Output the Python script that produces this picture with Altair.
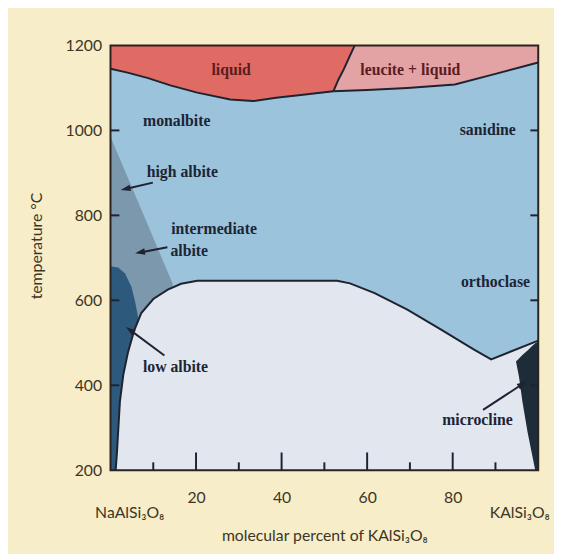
import math
import altair as alt
import pandas as pd

# ---------------- data ----------------
X_DOMAIN = [0, 100]          # molecular percent KAlSi3O8
T_DOMAIN = [200, 1200]       # temperature °C

# liquidus (liquid / solid)
liquidus_x = [0, 4, 8.8, 14, 20.3, 28, 33.3, 38.7, 45, 52.1]
liquidus_t = [1145, 1136, 1123, 1106, 1089, 1073, 1069, 1077, 1084, 1092]
# liquid / leucite+liquid boundary
boundary_x = [52.1, 53.3, 54.5, 55.8, 57.1]
boundary_t = [1092, 1120, 1143, 1172, 1200]
# bottom of leucite + liquid field
leucite_x = [52.1, 60, 69.4, 80.5, 90, 100]
leucite_t = [1092, 1095, 1100, 1108, 1133, 1160]
# solvus
solvus_x = [1.2, 1.5, 2.2, 3.0, 4.1, 5.5, 7.2, 10, 13.4, 16.5, 20.3,
            53, 56, 61.75, 69.4, 77.1, 84.8, 89, 100]
solvus_t = [200, 240, 362, 425, 478, 528, 570, 603, 625, 639, 646,
            646, 640, 617, 578, 532, 485, 461, 505]
# high / intermediate albite wedge
albite_x = [0, 14.5]
albite_t = [985, 640]
# low albite field (top edge)
lowalb_x = [0, 1.8, 3.4, 4.9, 5.8, 6.6]
lowalb_t = [680, 677, 663, 632, 594, 553]
# microcline field
micro_x = [94.8, 95.5, 96.3, 97.5, 98.5, 99.3, 100]
micro_lo = [456, 420, 362, 290, 240, 200, 200]
micro_hi = [456, 463, 471, 482, 492, 499, 503]

# axis ticks
y_tick_values = [400, 600, 800, 1000]
y_label_values = [200, 400, 600, 800, 1000, 1200]
x_major = [20, 40, 60, 80]
x_minor = [10, 30, 50, 70, 90]

# region labels
labels = ["liquid", "leucite + liquid", "monalbite", "high albite", "intermediate",
          "albite", "sanidine", "orthoclase", "low albite", "microcline"]
label_x = [28.2, 70.1, 15.5, 16.8, 24.2, 18.4, 88.2, 90.0, 15.2, 85.8]
label_t = [1143, 1143, 1021, 901, 768, 716, 1000, 644, 443, 317]
label_col = ["#5a1d1f", "#5a1d1f"] + ["#1c2535"] * 8

# arrows (start -> tip)
arrow_sx = [9.9, 13.3, 12.6, 87.1]
arrow_st = [877, 725, 470, 342]
arrow_tx = [2.6, 6.0, 3.8, 97.1]
arrow_tt = [860, 711, 536, 408]

end_labels = ["NaAlSi₃O₈", "KAlSi₃O₈"]
end_x = [4.5, 95.7]

# ---------------- styling ----------------
W, H = 434, 431
CREAM = "#f7edc9"
BLUE = "#9bc3dc"
RED = "#e06b64"
PINK = "#e3a2a3"
GRAY = "#7b98ad"
DARK = "#2d5a7c"
LIGHT = "#e2e7ef"
MICRO = "#1e2b38"
LINE = "#1f2230"
AXTXT = "#3d3625"
SANS = "Lato"
SERIF = "Liberation Serif"

xs = alt.Scale(domain=X_DOMAIN, nice=False, zero=False)
ys = alt.Scale(domain=T_DOMAIN, nice=False, zero=False)

AX_X = alt.Axis(
    values=x_major, format="d", ticks=False, tickSize=0, domain=False, grid=False,
    labelFont=SANS, labelFontSize=16, labelColor=AXTXT, labelPadding=20,
    title="molecular percent of KAlSi₃O₈", titleFont=SANS, titleFontSize=16,
    titleFontWeight="normal", titleColor=AXTXT, titleY=66, titleBaseline="middle")
AX_Y = alt.Axis(
    values=y_label_values, format="d", ticks=False, tickSize=0, domain=False, grid=False,
    labelFont=SANS, labelFontSize=16, labelColor=AXTXT, labelPadding=9,
    title="temperature °C", titleFont=SANS, titleFontSize=16,
    titleFontWeight="normal", titleColor=AXTXT, titleX=-75, titleY=203,
    titleBaseline="middle")


def ex(f="x"):
    return alt.X(f"{f}:Q", scale=xs, axis=AX_X)


def ey(f="t"):
    return alt.Y(f"{f}:Q", scale=ys, axis=AX_Y)


# background (main alkali feldspar field)
bg_df = pd.DataFrame({"x": X_DOMAIN, "t": [T_DOMAIN[0]] * 2, "hi": [T_DOMAIN[1]] * 2})
bg = alt.Chart(bg_df).mark_area(color=BLUE, opacity=1).encode(x=ex(), y=ey(), y2="hi:Q")

leu_df = pd.DataFrame({"x": leucite_x, "t": leucite_t, "hi": [T_DOMAIN[1]] * len(leucite_x)})
leu = alt.Chart(leu_df).mark_area(color=PINK, opacity=1).encode(x=ex(), y=ey(), y2="hi:Q")

liq_df = pd.DataFrame({"x": liquidus_x + boundary_x[1:], "t": liquidus_t + boundary_t[1:]})
liq_df["hi"] = T_DOMAIN[1]
liq = alt.Chart(liq_df).mark_area(color=RED, opacity=1).encode(x=ex(), y=ey(), y2="hi:Q")

alb_df = pd.DataFrame({"x": albite_x, "t": [T_DOMAIN[0]] * 2, "hi": albite_t})
alb = alt.Chart(alb_df).mark_area(color=GRAY, opacity=1).encode(x=ex(), y=ey(), y2="hi:Q")

low_df = pd.DataFrame({"x": lowalb_x, "t": [T_DOMAIN[0]] * len(lowalb_x), "hi": lowalb_t})
low = alt.Chart(low_df).mark_area(color=DARK, opacity=1).encode(x=ex(), y=ey(), y2="hi:Q")

sol_df = pd.DataFrame({"x": solvus_x, "t": [T_DOMAIN[0]] * len(solvus_x), "hi": solvus_t})
sol = alt.Chart(sol_df).mark_area(color=LIGHT, opacity=1).encode(x=ex(), y=ey(), y2="hi:Q")

mic_df = pd.DataFrame({"x": micro_x, "t": micro_lo, "hi": micro_hi})
mic = alt.Chart(mic_df).mark_area(color=MICRO, opacity=1).encode(x=ex(), y=ey(), y2="hi:Q")


def curve(xv, tv):
    d = pd.DataFrame({"x": xv, "t": tv, "i": range(len(xv))})
    return alt.Chart(d).mark_line(color=LINE, strokeWidth=2).encode(
        x=ex(), y=ey(), order="i:Q")


lines = [curve(liquidus_x, liquidus_t), curve(boundary_x, boundary_t),
         curve(leucite_x, leucite_t), curve(solvus_x, solvus_t)]

# ticks (pointing inward)
lt = alt.Chart(pd.DataFrame({"t": y_tick_values})).mark_rule(color=LINE, strokeWidth=2).encode(
    y=ey(), x=alt.value(0), x2=alt.value(9))
rt = alt.Chart(pd.DataFrame({"t": y_tick_values})).mark_rule(color=LINE, strokeWidth=2).encode(
    y=ey(), x=alt.value(W - 8), x2=alt.value(W))
bmaj = alt.Chart(pd.DataFrame({"x": x_major})).mark_rule(color=LINE, strokeWidth=2).encode(
    x=ex(), y=alt.value(H), y2=alt.value(H - 18))
bmin = alt.Chart(pd.DataFrame({"x": x_minor})).mark_rule(color=LINE, strokeWidth=2).encode(
    x=ex(), y=alt.value(H), y2=alt.value(H - 8))

# arrows
pxx, pxt = W / 100.0, H / 1000.0
rows = []
for sx, st, tx, tt in zip(arrow_sx, arrow_st, arrow_tx, arrow_tt):
    dxp = (tx - sx) * pxx
    dyp = -(tt - st) * pxt
    ln = math.hypot(dxp, dyp)
    ux, uy = dxp / ln, dyp / ln
    ang = math.degrees(math.atan2(dxp, -dyp)) % 360
    back = 4.0
    hx = tx - back * ux / pxx
    ht = tt + back * uy / pxt
    rows.append({"x": sx, "t": st, "hx": hx, "ht": ht, "ang": ang})
arr_df = pd.DataFrame(rows)
arr_line = alt.Chart(arr_df).mark_rule(color=LINE, strokeWidth=2).encode(
    x=ex(), y=ey(), x2="hx:Q", y2="ht:Q")
head_df = arr_df[["hx", "ht", "ang"]].rename(columns={"hx": "x", "ht": "t"})
arr_head = alt.Chart(head_df).mark_point(
    shape="M0,-1L0.65,1L-0.65,1Z", filled=True, color=LINE, opacity=1, size=100, strokeWidth=0
).encode(x=ex(), y=ey(), angle=alt.Angle("ang:Q", scale=None))

# region labels
lab_df = pd.DataFrame({"text": labels, "x": label_x, "t": label_t, "c": label_col})
labs = alt.Chart(lab_df).mark_text(
    font=SERIF, fontWeight="bold", fontSize=16, align="center", baseline="middle"
).encode(x=ex(), y=ey(), text="text:N", color=alt.Color("c:N", scale=None))

# end-member labels under the axis
end_df = pd.DataFrame({"text": end_labels, "x": end_x})
ends = alt.Chart(end_df).mark_text(
    font=SANS, fontSize=16, color=AXTXT, align="center", baseline="middle"
).encode(x=ex(), y=alt.value(H + 43), text="text:N")

# plot frame
frame_df = pd.DataFrame({"x": [X_DOMAIN[0]], "x1": [X_DOMAIN[1]],
                         "t": [T_DOMAIN[0]], "t1": [T_DOMAIN[1]]})
frame = alt.Chart(frame_df).mark_rect(filled=False, stroke="#2b2222", strokeWidth=2).encode(
    x=ex(), x2="x1:Q", y=ey(), y2="t1:Q")

chart = alt.layer(
    bg, leu, liq, alb, low, sol, mic, *lines, lt, rt, bmaj, bmin,
    arr_line, arr_head, labs, ends, frame
).properties(
    width=W, height=H,
    padding={"left": 104, "top": 34, "right": 16, "bottom": 81},
    autosize=alt.AutoSizeParams(type="none"),
).configure(background=CREAM).configure_view(stroke=None)

chart.save("out.html", embed_options={"renderer": "svg", "actions": False})
